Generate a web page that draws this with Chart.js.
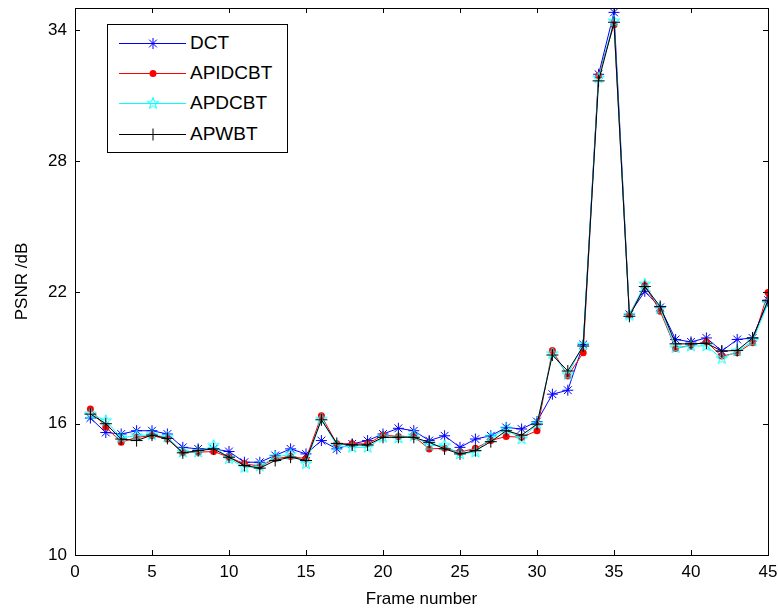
<!DOCTYPE html>
<html>
<head>
<meta charset="utf-8">
<script src="https://cdn.jsdelivr.net/npm/chart.js@4.4.1/dist/chart.umd.min.js"></script>
<style>
  html, body { margin: 0; padding: 0; background: #fff; }
  #wrap { position: relative; width: 778px; height: 612px; }
  #legend { position: absolute; left: 107px; top: 24px; width: 179px; height: 127px;
            border: 1px solid #000; background: #fff; font-family: "Liberation Sans", Arial, sans-serif; }
  .row { position: absolute; left: 0; height: 30px; width: 179px; }
  .row canvas { position: absolute; left: 11px; top: 0; }
  .row span { position: absolute; left: 82px; top: 3px; font-size: 19px; line-height: 24px; color: #000; }
</style>
</head>
<body>
<div id="wrap">
  <canvas id="c" width="778" height="612"></canvas>
  <div id="legend"></div>
</div>
<script>
const frames = [1,2,3,4,5,6,7,8,9,10,11,12,13,14,15,16,17,18,19,20,21,22,23,24,25,26,27,28,29,30,31,32,33,34,35,36,37,38,39,40,41,42,43,44,45];
const seriesNames = ["DCT", "APIDCBT", "APDCBT", "APWBT"];
const dct = [16.26,15.60,15.53,15.68,15.68,15.53,14.92,14.85,14.85,14.73,14.24,14.24,14.55,14.85,14.62,15.23,14.85,15.08,15.23,15.53,15.79,15.68,15.23,15.45,14.92,15.30,15.45,15.83,15.76,16.10,17.35,17.53,19.62,31.97,34.80,21.00,22.05,21.32,19.85,19.74,19.92,19.32,19.85,19.92,21.65];
const apidcbt = [16.67,15.85,15.15,15.38,15.45,15.30,14.67,14.70,14.73,14.47,14.17,14.06,14.40,14.50,14.40,16.36,15.08,15.08,15.08,15.48,15.42,15.42,14.85,14.88,14.70,14.88,15.23,15.42,15.38,15.68,19.35,18.18,19.24,31.92,34.24,20.98,22.32,21.14,19.44,19.59,19.74,19.09,19.24,19.70,22.00];
const apdcbt = [16.44,16.14,15.36,15.45,15.50,15.38,14.70,14.70,15.00,14.40,14.00,14.06,14.47,14.60,14.17,16.20,15.00,14.92,14.92,15.38,15.35,15.45,15.00,15.00,14.62,14.70,15.38,15.75,15.30,16.00,19.20,18.25,19.60,31.80,34.40,20.95,22.38,21.25,19.47,19.55,19.56,18.98,19.32,19.77,21.50];
const apwbt = [16.44,16.00,15.30,15.23,15.48,15.33,14.67,14.77,14.85,14.47,14.09,13.97,14.32,14.47,14.32,16.18,15.10,15.03,15.03,15.38,15.38,15.38,15.15,14.85,14.62,14.77,15.18,15.68,15.48,15.98,19.14,18.41,19.55,31.67,34.35,20.91,22.27,21.36,19.65,19.65,19.68,19.32,19.35,19.92,21.62];
const yTickValues = [10, 16, 22, 28, 34];
const xTickValues = [0, 5, 10, 15, 20, 25, 30, 35, 40, 45];

const FONT = '"Liberation Sans", Arial, sans-serif';

function pentagram(color, R) {
  const s = Math.ceil(R * 2 + 4);
  const cv = document.createElement('canvas');
  cv.width = s; cv.height = s;
  const g = cv.getContext('2d');
  const r = R * 0.4;
  g.beginPath();
  for (let i = 0; i < 10; i++) {
    const a = -Math.PI / 2 + i * Math.PI / 5;
    const rr = i % 2 === 0 ? R : r;
    const x = s / 2 + rr * Math.cos(a), y = s / 2 + rr * Math.sin(a);
    if (i === 0) g.moveTo(x, y); else g.lineTo(x, y);
  }
  g.closePath();
  g.strokeStyle = color; g.lineWidth = 1; g.stroke();
  return cv;
}
const penta = pentagram('#00ffff', 6);

function pts(arr) { return frames.map((f, i) => ({ x: f, y: arr[i] })); }

const datasets = [
  { label: seriesNames[0], data: pts(dct), borderColor: '#0000ff', backgroundColor: '#0000ff',
    pointStyle: 'star', pointRadius: 5.5, pointBorderWidth: 1, borderWidth: 1, order: 4 },
  { label: seriesNames[1], data: pts(apidcbt), borderColor: '#ff0000', backgroundColor: '#ff0000',
    pointStyle: 'circle', pointRadius: 3.5, pointBorderWidth: 0, borderWidth: 1, order: 3 },
  { label: seriesNames[2], data: pts(apdcbt), borderColor: '#00ffff', backgroundColor: '#00ffff',
    pointStyle: penta, pointRadius: 6, borderWidth: 1, order: 2 },
  { label: seriesNames[3], data: pts(apwbt), borderColor: '#000000', backgroundColor: '#000000',
    pointStyle: 'cross', pointRadius: 6, pointBorderWidth: 1, borderWidth: 1, order: 1 }
];

const boxPlugin = {
  id: 'box',
  afterDraw(chart) {
    const { ctx, chartArea: a, scales } = chart;
    ctx.save();
    ctx.strokeStyle = '#000'; ctx.lineWidth = 1;
    ctx.strokeRect(Math.round(a.left) + 0.5, Math.round(a.top) + 0.5,
                   Math.round(a.right - a.left), Math.round(a.bottom - a.top));
    const L = 5;
    ctx.beginPath();
    xTickValues.forEach(v => {
      const x = Math.round(scales.x.getPixelForValue(v)) + 0.5;
      ctx.moveTo(x, a.bottom); ctx.lineTo(x, a.bottom - L);
      ctx.moveTo(x, a.top); ctx.lineTo(x, a.top + L);
    });
    yTickValues.forEach(v => {
      const y = Math.round(scales.y.getPixelForValue(v)) + 0.5;
      ctx.moveTo(a.left, y); ctx.lineTo(a.left + L, y);
      ctx.moveTo(a.right, y); ctx.lineTo(a.right - L, y);
    });
    ctx.stroke();
    ctx.restore();
  }
};

new Chart(document.getElementById('c'), {
  type: 'line',
  data: { datasets },
  options: {
    responsive: false,
    animation: false,
    devicePixelRatio: 1,
    layout: { padding: { top: 8, right: 10, left: 0, bottom: 0 } },
    plugins: { legend: { display: false }, tooltip: { enabled: false } },
    scales: {
      x: {
        type: 'linear', min: 0, max: 45,
        afterBuildTicks: s => { s.ticks = xTickValues.map(v => ({ value: v })); },
        afterFit: s => { s.height = 57; s.paddingLeft = 0; s.paddingRight = 0; },
        grid: { display: false, drawTicks: false },
        border: { display: false },
        ticks: { color: '#000', font: { family: FONT, size: 17 }, padding: 7, maxRotation: 0 },
        title: { display: true, text: 'Frame number', color: '#000', font: { family: FONT, size: 17 }, padding: { top: 0, bottom: 2 } }
      },
      y: {
        type: 'linear', min: 10, max: 35,
        afterBuildTicks: s => { s.ticks = yTickValues.map(v => ({ value: v })); },
        afterFit: s => { s.width = 75; s.paddingTop = 0; s.paddingBottom = 0; },
        grid: { display: false, drawTicks: false },
        border: { display: false },
        ticks: { color: '#000', font: { family: FONT, size: 17 }, padding: 8 },
        title: { display: true, text: 'PSNR /dB', color: '#000', font: { family: FONT, size: 17 }, padding: { top: 12, bottom: 0 } }
      }
    }
  },
  plugins: [boxPlugin]
});

// legend (HTML, real text) with line + marker samples
const legendStyles = [
  { color: '#0000ff', marker: 'star' },
  { color: '#ff0000', marker: 'dot' },
  { color: '#00ffff', marker: 'penta' },
  { color: '#000000', marker: 'cross' }
];
const leg = document.getElementById('legend');
const rowTops = [3, 33, 63, 94];
seriesNames.forEach((name, i) => {
  const row = document.createElement('div');
  row.className = 'row'; row.style.top = rowTops[i] + 'px';
  const cv = document.createElement('canvas');
  cv.width = 68; cv.height = 30;
  const g = cv.getContext('2d');
  const st = legendStyles[i];
  const cy = 15.5, cx = 34;
  g.strokeStyle = st.color; g.fillStyle = st.color; g.lineWidth = 1;
  g.beginPath(); g.moveTo(0, cy); g.lineTo(67, cy); g.stroke();
  g.beginPath();
  if (st.marker === 'star') {
    const r = 5.5, d = r * Math.SQRT1_2;
    g.moveTo(cx - r, cy); g.lineTo(cx + r, cy); g.moveTo(cx, cy - r); g.lineTo(cx, cy + r);
    g.moveTo(cx - d, cy - d); g.lineTo(cx + d, cy + d); g.moveTo(cx - d, cy + d); g.lineTo(cx + d, cy - d);
    g.stroke();
  } else if (st.marker === 'dot') {
    g.arc(cx, cy, 3.5, 0, Math.PI * 2); g.fill();
  } else if (st.marker === 'penta') {
    g.drawImage(penta, cx - penta.width / 2, cy - penta.height / 2);
  } else {
    g.moveTo(cx - 6, cy); g.lineTo(cx + 6, cy); g.moveTo(cx, cy - 6); g.lineTo(cx, cy + 6); g.stroke();
  }
  const sp = document.createElement('span');
  sp.textContent = name;
  row.appendChild(cv); row.appendChild(sp);
  leg.appendChild(row);
});
</script>
</body>
</html>
